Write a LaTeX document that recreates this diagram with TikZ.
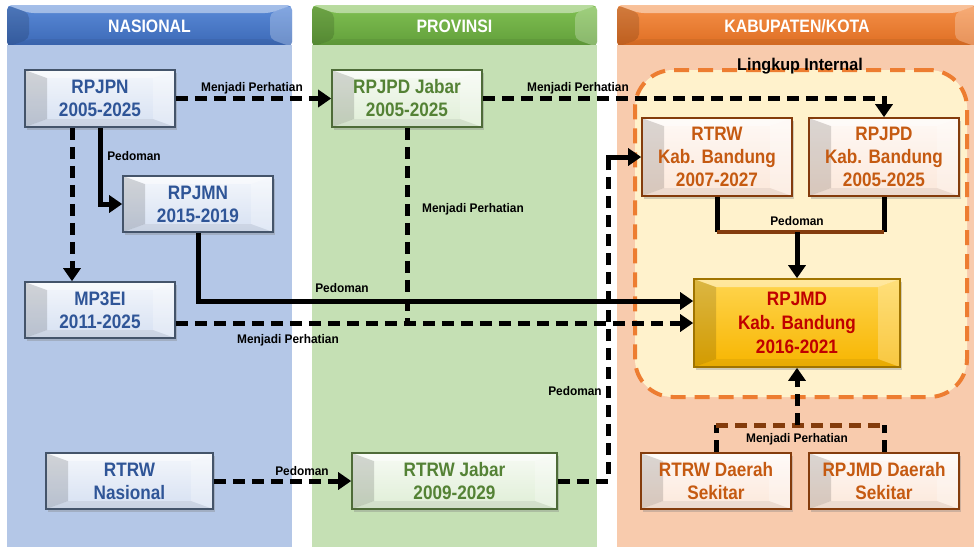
\documentclass[tikz,border=0pt]{standalone}
\usepackage{fontspec}
\setmainfont{Liberation Sans}
\newfontfamily\boxfont{Liberation Sans}[FakeStretch=0.88]
\newfontfamily\lblfont{Liberation Sans}[FakeStretch=0.95]
\usetikzlibrary{arrows.meta,shadows,calc}
\definecolor{bodyblue}{HTML}{B4C7E7}
\definecolor{bodygreen}{HTML}{C5E0B4}
\definecolor{bodyorange}{HTML}{F8CBAD}
\definecolor{hblueT}{HTML}{5A8AD8}
\definecolor{hblueB}{HTML}{3B68B5}
\definecolor{hgreenT}{HTML}{80C052}
\definecolor{hgreenB}{HTML}{619E3A}
\definecolor{horangeT}{HTML}{F59048}
\definecolor{horangeB}{HTML}{DE6D22}
\definecolor{tblue}{HTML}{2F5597}
\definecolor{tgreen}{HTML}{548235}
\definecolor{torange}{HTML}{C55A11}
\definecolor{tred}{HTML}{C00000}
\definecolor{bblue}{HTML}{44546A}
\definecolor{bgreen}{HTML}{4E6B38}
\definecolor{borange}{HTML}{843C0C}
\definecolor{bgold}{HTML}{A07400}
\definecolor{goldT}{HTML}{FFD54F}
\definecolor{goldB}{HTML}{F7B500}
\definecolor{lingfill}{HTML}{FFF2CC}
\definecolor{lingline}{HTML}{ED7D31}
\definecolor{brownln}{HTML}{843C0C}
\begin{document}
\begin{tikzpicture}[x=1pt,y=-1pt,
  bevel/.style={path picture={
    \fill[black,opacity=0.14] (path picture bounding box.north west) -- ([shift={(22pt,-8pt)}]path picture bounding box.north west) -- ([shift={(22pt,8pt)}]path picture bounding box.south west) -- (path picture bounding box.south west) -- cycle;
    \fill[white,opacity=0.45] (path picture bounding box.north west) -- (path picture bounding box.north east) -- ([shift={(-22pt,-8pt)}]path picture bounding box.north east) -- ([shift={(22pt,-8pt)}]path picture bounding box.north west) -- cycle;
    \fill[white,opacity=0.25] (path picture bounding box.north east) -- (path picture bounding box.south east) -- ([shift={(-22pt,8pt)}]path picture bounding box.south east) -- ([shift={(-22pt,-8pt)}]path picture bounding box.north east) -- cycle;
    \fill[black,opacity=0.06] (path picture bounding box.south west) -- (path picture bounding box.south east) -- ([shift={(-22pt,8pt)}]path picture bounding box.south east) -- ([shift={(22pt,8pt)}]path picture bounding box.south west) -- cycle;
  }},
  box/.style={line width=1.6pt, align=center, inner sep=0pt, bevel,
    font=\boxfont\bfseries\fontsize{19.5}{23}\selectfont,
    drop shadow={opacity=0.35, shadow xshift=2pt, shadow yshift=-2.5pt},
    minimum width=150pt, minimum height=56pt},
  bluebox/.style={box, draw=bblue, top color=white!85!bodyblue, bottom color=white!45!bodyblue, text=tblue},
  greenbox/.style={box, draw=bgreen, top color=white!85!bodygreen, bottom color=white!45!bodygreen, text=tgreen},
  orangebox/.style={box, draw=borange, top color=white!88!bodyorange, bottom color=white!55!bodyorange, text=torange},
  goldbox/.style={box, draw=bgold, top color=goldT, bottom color=goldB, text=tred},
  hdr/.style={rounded corners=5pt, inner sep=0pt, bevel, minimum height=42pt, text=white,
    font=\boxfont\bfseries\fontsize{18}{20}\selectfont},
  conn/.style={line width=5pt},
  dsh/.style={dash pattern=on 12pt off 7pt},
  arr/.style={-{Triangle[length=13pt,width=17pt]}},
  lbl/.style={inner sep=0pt, font=\lblfont\bfseries\fontsize{12.5}{14}\selectfont}
]
\clip (0,0) rectangle (974,547);
\fill[white] (0,0) rectangle (974,547);
% columns
\fill[bodyblue] (7,45) rectangle (292,547);
\fill[bodygreen] (312,45) rectangle (597,547);
\fill[bodyorange] (617,45) rectangle (974,547);
\node[hdr, top color=hblueT, bottom color=hblueB, minimum width=285pt] (hnas) at (149.5,26) {NASIONAL};
\node[hdr, top color=hgreenT, bottom color=hgreenB, minimum width=285pt] (hprov) at (454.5,26) {PROVINSI};
\node[hdr, top color=horangeT, bottom color=horangeB, minimum width=360pt] (hkab) at (797,26) {KABUPATEN/KOTA};
\fill[bodyblue] (7,45) rectangle (292,49);
\fill[bodygreen] (312,45) rectangle (597,49);
\fill[bodyorange] (617,45) rectangle (974,49);
% lingkup internal
\node[draw=lingline, fill=lingfill, line width=4pt, dash pattern=on 15pt off 9pt, rounded corners=38pt,
  minimum width=332pt, minimum height=327pt, inner sep=0pt] (ling) at (801,233.5) {};
\node[inner sep=0pt, font=\lblfont\bfseries\fontsize{17}{19}\selectfont] (linglbl) at (800,66) {Lingkup Internal};
% boxes
\node[bluebox, minimum height=57pt] (rpjpn) at (100,98.5) {RPJPN\\2005-2025};
\node[bluebox] (rpjmn) at (198,204) {RPJMN\\2015-2019};
\node[bluebox] (mp3ei) at (100,310) {MP3EI\\2011-2025};
\node[bluebox, minimum width=167pt] (rtrwn) at (129.5,481) {RTRW\\Nasional};
\node[greenbox, minimum height=57pt] (rpjpdj) at (407,98.5) {RPJPD Jabar\\2005-2025};
\node[greenbox, minimum width=205pt] (rtrwj) at (454.5,481) {RTRW Jabar\\2009-2029};
\node[orangebox, minimum height=78pt] (rtrwk) at (717,157) {RTRW\\Kab. Bandung\\2007-2027};
\node[orangebox, minimum height=78pt] (rpjpdk) at (884,157) {RPJPD\\Kab. Bandung\\2005-2025};
\node[goldbox, minimum width=206pt, minimum height=88pt, font=\boxfont\bfseries\fontsize{19.5}{24}\selectfont] (rpjmd) at (797,323) {RPJMD\\Kab. Bandung\\2016-2021};
\node[orangebox] (rtrwd) at (716,481) {RTRW Daerah\\Sekitar};
\node[orangebox] (rpjmdd) at (884,481) {RPJMD Daerah\\Sekitar};
% connectors
\draw[conn,dsh,arr] (rpjpn.east) -- (rpjpdj.west);
\draw[conn,dsh,arr] (rpjpdj.east) -| (rpjpdk.north);
\draw[conn,arr] (rpjpn.south) |- (rpjmn.west);
\draw[conn,dsh,arr] ([xshift=-28pt]rpjpn.south) -- ([xshift=-28pt]mp3ei.north);
\draw[conn,arr] (rpjmn.south) |- ([yshift=22pt]rpjmd.west);
\draw[conn,dsh,arr] (mp3ei.east |- rpjmd.west) -- (rpjmd.west);
\draw[conn,dsh] (rpjpdj.south) -- (rpjpdj.south |- rpjmd.west);
\draw[conn,dsh,arr] (rtrwn.east) -- (rtrwj.west);
\coordinate (k1) at (608,481);
\coordinate (k2) at (608,157);
\draw[conn,dsh] (rtrwj.east) -- (k1) -- (k2);
\draw[conn,arr] ([yshift=-12pt]k2) -- (k2) -- (rtrwk.west);
\coordinate (p1) at (717,232);
\coordinate (p2) at (884,232);
\coordinate (pm) at (797,232);
\draw[conn] (rtrwk.south) -- (p1);
\draw[conn] (rpjpdk.south) -- (p2);
\draw[line width=4pt, brownln] (p1) -- (p2);
\draw[conn,arr] (pm) -- (rpjmd.north);
\coordinate (q1) at (716,425);
\coordinate (q2) at (884,425);
\coordinate (qm) at (797,425);
\draw[conn,dsh] (rtrwd.north) -- (q1);
\draw[conn,dsh] (rpjmdd.north) -- (q2);
\draw[conn,dsh,brownln] (q1) -- (q2);
\draw[conn,dsh,arr] (qm) -- (rpjmd.south);
% labels
\node[lbl] (l1) at (252,88) {Menjadi Perhatian};
\node[lbl] (l2) at (578,88) {Menjadi Perhatian};
\node[lbl] (l3) at (134,156) {Pedoman};
\node[lbl] (l4) at (473,209) {Menjadi Perhatian};
\node[lbl] (l5) at (342,288) {Pedoman};
\node[lbl] (l6) at (288,340) {Menjadi Perhatian};
\node[lbl] (l7) at (575,391) {Pedoman};
\node[lbl] (l8) at (302,471) {Pedoman};
\node[lbl] (l9) at (797,221) {Pedoman};
\node[lbl] (l10) at (797,439) {Menjadi Perhatian};
\end{tikzpicture}
\end{document}
